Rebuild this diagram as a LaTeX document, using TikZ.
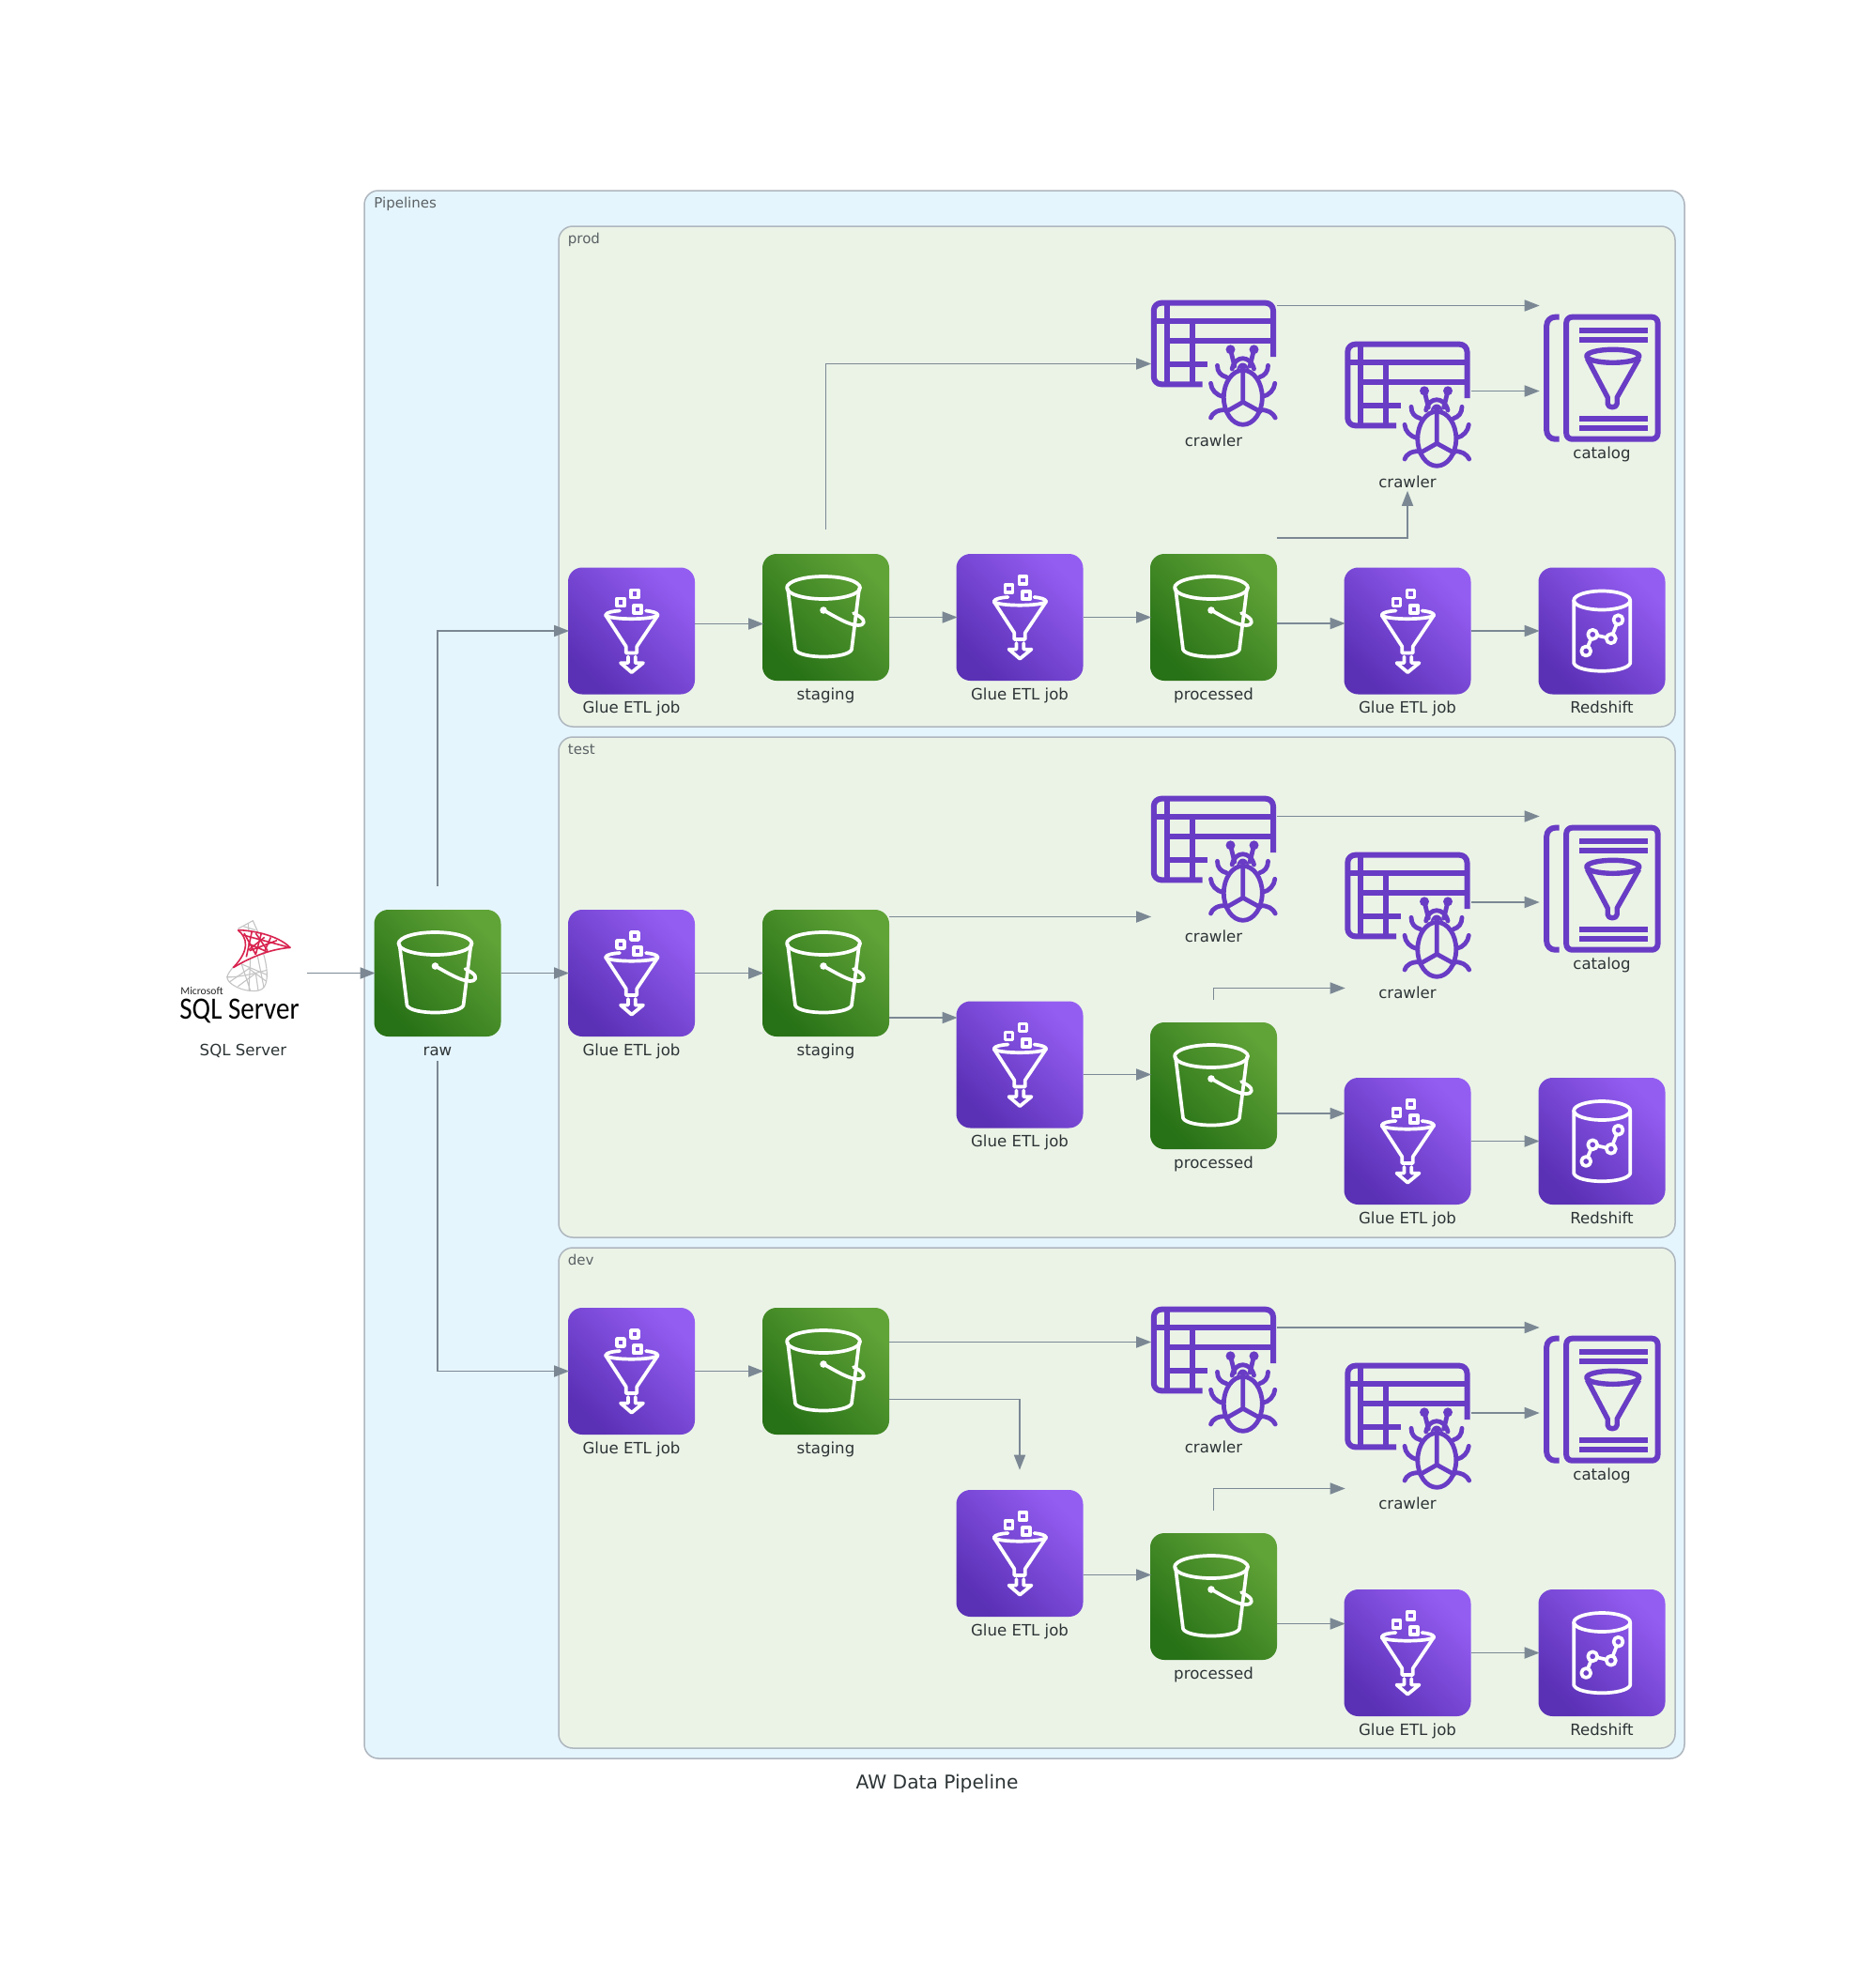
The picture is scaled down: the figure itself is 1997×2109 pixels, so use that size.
\documentclass[tikz,border=0pt]{standalone}
\usepackage{fontspec}
\setmainfont{DejaVu Sans}
\newfontfamily\logofont{Carlito}
\usetikzlibrary{arrows.meta,calc}
\definecolor{txt}{HTML}{2D3436}
\definecolor{clbl}{HTML}{5A6164}
\definecolor{edgec}{HTML}{7B8894}
\definecolor{pen}{HTML}{AEB6BE}
\definecolor{outerbg}{HTML}{E5F5FD}
\definecolor{innerbg}{HTML}{EBF3E7}
\definecolor{awspurple}{HTML}{693CC5}
\definecolor{sqlred}{HTML}{D9234F}
\definecolor{sqlgray}{HTML}{C4C4C4}
\definecolor{ptop}{HTML}{945DF2}
\definecolor{pbot}{HTML}{5A30B5}
\definecolor{gtop}{HTML}{60A337}
\definecolor{gbot}{HTML}{277116}
\tikzset{
  plain/.style={rectangle,minimum size=67.5pt,inner sep=0pt,outer sep=0pt},
  purplebox/.style={plain,rounded corners=7.5pt,top color=ptop,bottom color=pbot,shading angle=-45},
  greenbox/.style={plain,rounded corners=7.5pt,top color=gtop,bottom color=gbot,shading angle=-45},
  lbl/.style={font=\fontsize{8.3pt}{10pt}\selectfont,text=txt,inner sep=0pt,anchor=base},
  clusterlbl/.style={font=\fontsize{7.5pt}{9pt}\selectfont,text=clbl,inner sep=0pt,anchor=base west},
  outerc/.style={draw=pen,fill=outerbg,line width=0.75pt,rounded corners=7.5pt},
  innerc/.style={draw=pen,fill=innerbg,line width=0.75pt,rounded corners=7.5pt},
  flow/.style={draw=edgec,line width=0.85pt,shorten >=-0.6pt,-{Triangle[length=8pt,width=6pt]}},
  wi/.style={draw=white,line width=1.85pt,line join=round,line cap=round},
  pstroke/.style={draw=awspurple,line width=3pt,line join=round},
}
\newcommand{\putnode}[7][155]{%
  \node[#5] (#2) at (#3+67.5,#4+67.5) {};
  \node[lbl] (#2l) at (#3+67.5,#4+#1) {#6};
  \begin{scope}[shift={(#3,#4)}]#7\end{scope}}
\newcommand{\bucketicon}{%
  \draw[wi] (65,36) ellipse [x radius=39,y radius=12];
  \draw[wi] (27,37) -- (35,102) .. controls (40,112) and (90,112) .. (95,102) -- (103,37);
  \fill[white] (65,60) circle [radius=3.8];
  \draw[wi] (65,60) .. controls (78,67) and (92,76) .. (102,76) .. controls (109,76) and (110,71) .. (104,67) .. controls (101,65) and (99,64) .. (97,63);}
\newcommand{\glueicon}{%
  \draw[wi] (40,50.7) .. controls (44,56) and (91,56) .. (95.7,50.7);
  \draw[wi] (40,50.7) .. controls (41,47.5) and (48,46.5) .. (55,46);
  \draw[wi] (83,46) .. controls (90,46.8) and (95,48) .. (95.7,50.7);
  \draw[wi] (40,50.7) -- (61.7,84) -- (61.7,91) -- (73.3,91) -- (73.3,84) -- (95.7,50.7);
  \draw[wi] (64,95) -- (64,101.6) -- (56,101.6) -- (67.7,111.7) -- (80,101.6) -- (71.7,101.6) -- (71.7,95);
  \draw[wi] (67,24) rectangle (75,32);
  \draw[wi] (52,33) rectangle (60,41);
  \draw[wi] (70.3,40.3) rectangle (78.3,48.3);}
\newcommand{\shifticon}{%
  \draw[wi] (67.7,35) ellipse [x radius=30,y radius=10];
  \draw[wi] (37.7,35) -- (37.7,102) .. controls (42,113) and (93,113) .. (97.7,102) -- (97.7,35);
  \draw[wi] (50.7,89) circle [radius=5] (57.7,71.3) circle [radius=5] (77.3,75.7) circle [radius=5] (85,55.7) circle [radius=5];
  \draw[wi] (52.5,84.3) -- (55.9,76);
  \draw[wi] (62.6,72.4) -- (72.4,74.6);
  \draw[wi] (79.1,71) -- (83.2,60.4);}
\newcommand{\crawlericon}{%
  \draw[pstroke,rounded corners=4pt] (55.5,89.3) -- (3.8,89.3) -- (3.8,2.7) -- (131,2.7) -- (131,60);
  \draw[pstroke] (3.8,21.7) -- (131,21.7) (17.8,43.3) -- (131,43.3) (17.8,67.7) -- (60.5,67.7);
  \draw[pstroke] (17.8,2.7) -- (17.8,89.3) (44.5,21.7) -- (44.5,89.3);
  \begin{scope}[pstroke,line width=2.4pt,line cap=round]
  \draw (98.8,103.3) ellipse [x radius=20.5,y radius=29];
  \draw (98.8,77) -- (98.8,108.3) -- (81.2,118.3) (98.8,108.3) -- (117,118.3);
  \fill[awspurple] (85.5,52.3) circle [radius=5] (110.5,52.3) circle [radius=5];
  \draw (85.5,52.3) -- (89.8,70) (110.5,52.3) -- (106.2,70);
  \draw (87.2,73) .. controls (90,58) and (107,58) .. (110.5,73);
  \fill[awspurple] (92,74) .. controls (94,64) and (103,64) .. (105.5,74) .. controls (101,71) and (96,71) .. cycle;
  \draw (71.5,69.3) .. controls (71.5,76) and (75,80) .. (81.2,81.7);
  \draw (125.5,69.3) .. controls (125.5,76) and (122,80) .. (116.5,81.7);
  \draw (64.5,88.3) .. controls (65,95) and (70,101) .. (77.8,102.3);
  \draw (132.8,88.3) .. controls (132,95) and (127,101) .. (119.8,102.3);
  \draw (64.5,125) .. controls (66,120) and (72,116) .. (81.2,116.7);
  \draw (133.2,125) .. controls (131,120) and (125,116) .. (116.5,116.7);
  \end{scope}}
\newcommand{\catalogicon}{%
  \draw[pstroke,rounded corners=4.5pt] (22,1.7) -- (8.7,1.7) -- (8.7,131.7) -- (22,131.7);
  \draw[pstroke,rounded corners=3pt] (29.7,131.7) -- (29.7,1.7) -- (127,1.7) -- (127,131.7) -- cycle;
  \draw[pstroke] (43.7,15.7) -- (116.3,15.7) (43.7,26.3) -- (116.3,26.3) (43.7,109.7) -- (116.3,109.7) (43.7,120.3) -- (116.3,120.3);
  \draw[pstroke,line width=2.7pt] (79.3,43.3) ellipse [x radius=28,y radius=7];
  \draw[pstroke,line width=2.7pt] (52,46) -- (73.7,87.3) -- (73.7,94) .. controls (73.7,99) and (83.7,99) .. (83.7,94) -- (83.7,87.3) -- (107,46);}
\newcommand{\hf}[3]{\draw[flow] ([yshift={(#3)*(-0.5pt)}]#1.east) -- ([yshift={(#3)*(-0.5pt)}]#1.east -| #2.west);}
\begin{document}
\begin{tikzpicture}[x=0.5pt,y=-0.5pt]
\useasboundingbox (0,0) rectangle (1997,2109);
\fill[white] (0,0) rectangle (1997,2109);
% clusters
\path[outerc] (388,203) rectangle (1794,1873);
\node[clusterlbl] (tp) at (398,221) {Pipelines};
\path[innerc] (595,241) rectangle (1784,774);
\node[clusterlbl] (tprod) at (604.5,259) {prod};
\path[innerc] (595,785) rectangle (1784,1318);
\node[clusterlbl] (ttest) at (604.5,803) {test};
\path[innerc] (595,1329) rectangle (1784,1862);
\node[clusterlbl] (tdev) at (604.5,1347) {dev};
\node[font=\fontsize{10.1pt}{12pt}\selectfont,text=txt,inner sep=0pt] (title) at (998,1900) {AW Data Pipeline};
% SQL Server
\putnode{sql}{191.5}{969}{plain}{SQL Server}{}
\begin{scope}[shift={(185,970)},x=0.1667pt,y=-0.1667pt]
  \begin{scope}[draw=sqlgray,line width=0.55pt,line join=round]
  \draw (205,58) -- (253,32) -- (272,75);
  \draw (222,50) -- (262,62) (238,42) -- (240,68);
  \draw (190,180) .. controls (170,205) and (165,215) .. (178,228) .. controls (195,245) and (225,255) .. (245,256) .. controls (265,258) and (280,255) .. (288,245) .. controls (303,225) and (300,180) .. (285,132);
  \draw (215,165) -- (245,256) (245,155) -- (240,256) (268,145) -- (288,245);
  \draw (168,212) .. controls (200,215) and (260,200) .. (298,190);
  \draw (178,228) -- (240,185) -- (295,225) (215,170) -- (298,205);
  \draw (205,242) -- (262,200) -- (270,255);
  \end{scope}
  \begin{scope}[draw=sqlred,line width=0.8pt,line join=round]
  \draw (205,62) .. controls (240,62) and (330,75) .. (372,118) .. controls (320,122) and (260,140) .. (190,182);
  \draw (205,62) .. controls (235,85) and (245,125) .. (190,182);
  \draw (222,78) -- (372,118) (238,105) -- (300,132) (242,128) -- (330,95);
  \draw (250,66) -- (232,148) (280,72) -- (262,140) (310,85) -- (290,130);
  \draw (225,72) -- (262,140) (262,72) -- (300,128) (240,125) -- (290,85);
  \end{scope}
\end{scope}
\node[font=\logofont\fontsize{5.8pt}{6pt}\selectfont,text=black!85,inner sep=0pt,anchor=base west] (sqlm) at (192,1059) {Microsoft};
\node[font=\logofont\fontsize{16.5pt}{17pt}\selectfont,text=black,inner sep=0pt,anchor=base west] (sqln) at (191,1085) {\scalebox{0.88}[1]{SQL Server}};
% raw
\putnode{raw}{398.5}{969}{greenbox}{raw}{\bucketicon}
% prod
\putnode{pa}{605}{604.5}{purplebox}{Glue ETL job}{\glueicon}
\putnode{pb}{812}{590}{greenbox}{staging}{\bucketicon}
\putnode{pc}{1018.5}{590}{purplebox}{Glue ETL job}{\glueicon}
\putnode{pd}{1225}{590}{greenbox}{processed}{\bucketicon}
\putnode{pe}{1431.5}{604.5}{purplebox}{Glue ETL job}{\glueicon}
\putnode{pf}{1638.5}{604.5}{purplebox}{Redshift}{\shifticon}
\putnode{pg}{1225}{320}{plain}{crawler}{\crawlericon}
\putnode{ph}{1431.5}{364}{plain}{crawler}{\crawlericon}
\putnode[152.5]{pk}{1638.5}{336}{plain}{catalog}{\catalogicon}
% test
\putnode{ta}{605}{969}{purplebox}{Glue ETL job}{\glueicon}
\putnode{tb}{812}{969}{greenbox}{staging}{\bucketicon}
\putnode{tc}{1018.5}{1066.5}{purplebox}{Glue ETL job}{\glueicon}
\putnode{td}{1225}{1089}{greenbox}{processed}{\bucketicon}
\putnode{te}{1431.5}{1148}{purplebox}{Glue ETL job}{\glueicon}
\putnode{tf}{1638.5}{1148}{purplebox}{Redshift}{\shifticon}
\putnode{tg}{1225}{848}{plain}{crawler}{\crawlericon}
\putnode{th}{1431.5}{908}{plain}{crawler}{\crawlericon}
\putnode[152.5]{tk}{1638.5}{880}{plain}{catalog}{\catalogicon}
% dev
\putnode{da}{605}{1393}{purplebox}{Glue ETL job}{\glueicon}
\putnode{db}{812}{1393}{greenbox}{staging}{\bucketicon}
\putnode{dc}{1018.5}{1587}{purplebox}{Glue ETL job}{\glueicon}
\putnode{dd}{1225}{1633}{greenbox}{processed}{\bucketicon}
\putnode{de}{1431.5}{1693}{purplebox}{Glue ETL job}{\glueicon}
\putnode{df}{1638.5}{1693}{purplebox}{Redshift}{\shifticon}
\putnode{dg}{1225}{1392}{plain}{crawler}{\crawlericon}
\putnode{dh}{1431.5}{1452}{plain}{crawler}{\crawlericon}
\putnode[152.5]{dk}{1638.5}{1424}{plain}{catalog}{\catalogicon}
% edges
\draw[flow] (sql.east) -- (raw.west);
\draw[flow] ([yshift=12.5pt]raw.north) |- (pa.west);
\draw[flow] (raw.east) -- (ta.west);
\draw[flow] ([yshift=-12.75pt]raw.south) |- (da.west);
% prod
\hf{pa}{pb}{-7.5}
\hf{pb}{pc}{0}
\hf{pc}{pd}{0}
\hf{pd}{pe}{6.5}
\hf{pe}{pf}{0}
\draw[flow] ([yshift=13pt]pb.north) |- (pg.west);
\draw[flow] ([yshift=42.25pt]pd.east) -| ([yshift=-12.5pt]ph.south);
\hf{pg}{pk}{-62}
\hf{ph}{pk}{-15}
% test
\hf{ta}{tb}{0}
\hf{tb}{tg}{-60}
\hf{tb}{tc}{47.5}
\hf{tc}{td}{10.5}
\hf{td}{te}{29.5}
\hf{te}{tf}{0}
\draw[flow] ([yshift=12pt]td.north) |- ([yshift=-38.5pt]th.west);
\hf{tg}{tk}{-46}
\hf{th}{tk}{-14.5}
% dev
\hf{da}{db}{0}
\hf{db}{dg}{-31}
\draw[flow] ([yshift=-15pt]db.east) -| ([yshift=11.25pt]dc.north);
\hf{dc}{dd}{23}
\hf{dd}{de}{29}
\hf{de}{df}{0}
\draw[flow] ([yshift=12pt]dd.north) |- ([yshift=-33pt]dh.west);
\hf{dg}{dk}{-45.5}
\hf{dh}{dk}{-14.5}
\end{tikzpicture}
\end{document}
